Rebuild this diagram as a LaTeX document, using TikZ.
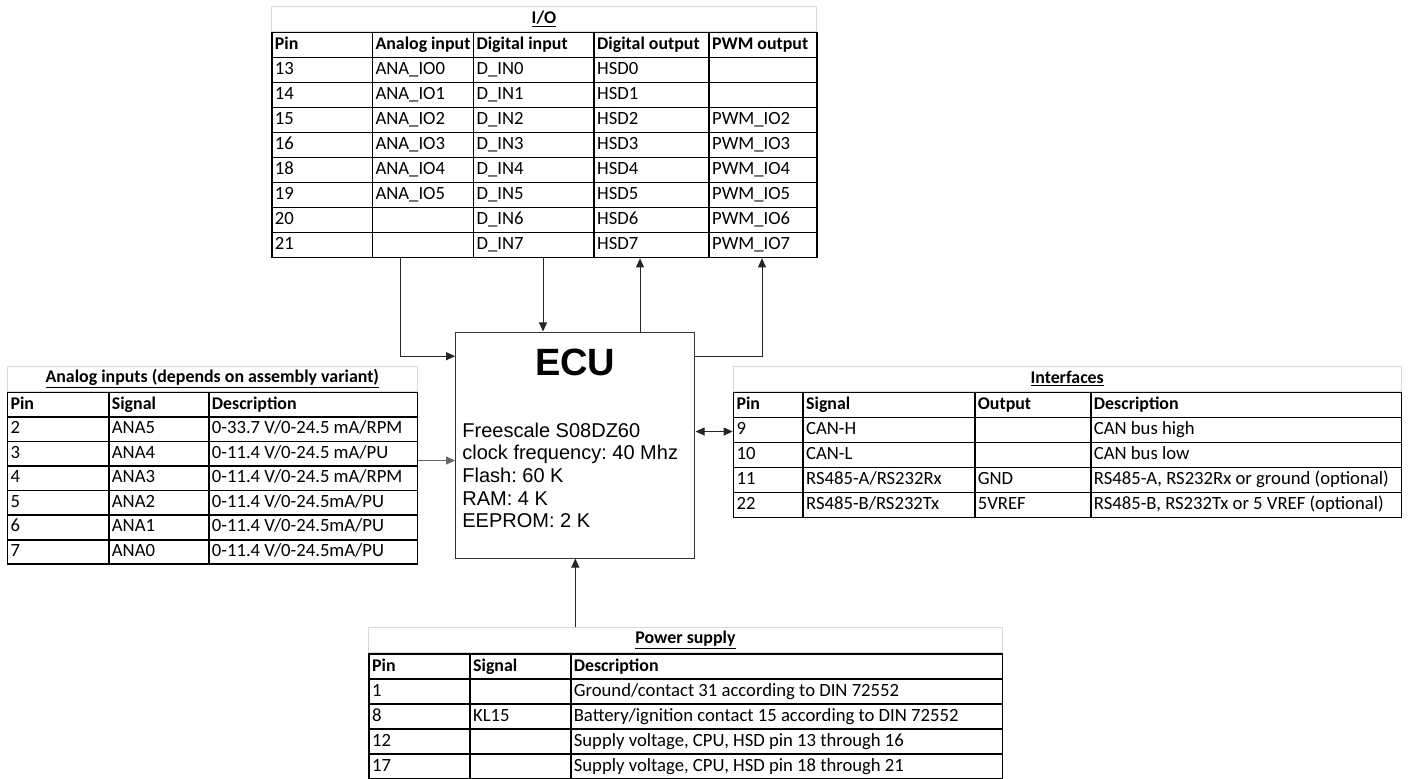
\documentclass[tikz,border=0pt]{standalone}
\usepackage{fontspec}
\setmainfont{Carlito}
\newfontfamily\ecufont{Liberation Sans}
\usetikzlibrary{
  arrows.meta,
  calc,
  matrix,
  positioning,
}
\frenchspacing
\newcommand{\tabfont}{\fontsize{14}{16}\selectfont}
\newcommand{\headfont}{\fontsize{13.4}{16}\selectfont\bfseries}
\tikzstyle{sheet} = [
  matrix of nodes,
  nodes in empty cells,
  inner sep=0pt,
  outer sep=0pt,
  column sep=-1.2pt,
  row sep=-1.2pt,
  nodes={draw, line width=1.2pt, rectangle, outer sep=0pt, inner xsep=2.3pt, inner ysep=0pt,
    minimum height=18.75pt, text height=9.8pt, text depth=3pt, align=flush left, font=\tabfont},
  row 1/.style={nodes={font=\headfont}},
]
\tikzstyle{caption} = [
  draw=black!15,
  line width=0.75pt,
  rectangle,
  anchor=south west,
  minimum height=18.9pt,
  inner sep=0pt,
  font=\headfont,
]
\tikzstyle{link} = [
  -{Triangle[length=6.8pt,width=6pt]},
  line width=0.75pt,
  black!85,
]

\begin{document}
\begin{tikzpicture}[x=0.75pt,y=-0.75pt]
    \useasboundingbox (0,0) rectangle (1412,778);

    % I/O
    \node[caption,minimum width=408.75pt] (iotitle) at (271,31.7) {\underline{I/O}};
    \matrix (io) [sheet,below=0pt of iotitle.south west,anchor=north west,
      column 1/.style={nodes={text width=70.9pt}},
      column 2/.style={nodes={text width=71.15pt}},
      column 3/.style={nodes={text width=85.85pt}},
      column 4/.style={nodes={text width=81.65pt}},
      column 5/.style={nodes={text width=76.2pt}}] {
      Pin & Analog input & Digital input & Digital output & PWM output \\
      13 & ANA\_IO0 & D\_IN0 & HSD0 & \\
      14 & ANA\_IO1 & D\_IN1 & HSD1 & \\
      15 & ANA\_IO2 & D\_IN2 & HSD2 & PWM\_IO2 \\
      16 & ANA\_IO3 & D\_IN3 & HSD3 & PWM\_IO3 \\
      18 & ANA\_IO4 & D\_IN4 & HSD4 & PWM\_IO4 \\
      19 & ANA\_IO5 & D\_IN5 & HSD5 & PWM\_IO5 \\
      20 & & D\_IN6 & HSD6 & PWM\_IO6 \\
      21 & & D\_IN7 & HSD7 & PWM\_IO7 \\
    };

    % Analog inputs
    \node[caption,minimum width=307.5pt] (anatitle) at (6.7,391.7) {\underline{Analog inputs (depends on assembly variant)}};
    \matrix (ana) [sheet,below=0pt of anatitle.south west,anchor=north west,
      nodes={minimum height=18.4pt},
      column 1/.style={nodes={text width=71.4pt}},
      column 2/.style={nodes={text width=70.4pt}},
      column 3/.style={nodes={text width=151.9pt}}] {
      Pin & Signal & Description \\
      2 & ANA5 & 0-33.7 V/0-24.5 mA/RPM \\
      3 & ANA4 & 0-11.4 V/0-24.5 mA/PU \\
      4 & ANA3 & 0-11.4 V/0-24.5 mA/RPM \\
      5 & ANA2 & 0-11.4 V/0-24.5mA/PU \\
      6 & ANA1 & 0-11.4 V/0-24.5mA/PU \\
      7 & ANA0 & 0-11.4 V/0-24.5mA/PU \\
    };

    % Interfaces
    \node[caption,minimum width=501pt] (intftitle) at (732.7,391.7) {\underline{Interfaces}};
    \matrix (intf) [sheet,below=0pt of intftitle.south west,anchor=north west,
      column 1/.style={nodes={text width=47.6pt}},
      column 2/.style={nodes={text width=124.2pt}},
      column 3/.style={nodes={text width=82.4pt}},
      column 4/.style={nodes={text width=228.4pt}}] {
      Pin & Signal & Output & Description \\
      9 & CAN-H & & CAN bus high \\
      10 & CAN-L & & CAN bus low \\
      11 & RS485-A/RS232Rx & GND & RS485-A, RS232Rx or ground (optional) \\
      22 & RS485-B/RS232Tx & 5VREF & RS485-B, RS232Tx or 5 VREF (optional) \\
    };

    % Power supply
    \node[caption,minimum width=475pt] (pwrtitle) at (368.3,653.3) {\underline{Power supply}};
    \matrix (pwr) [sheet,below=0pt of pwrtitle.south west,anchor=north west,
      column 1/.style={nodes={text width=71.15pt}},
      column 2/.style={nodes={text width=70.9pt}},
      column 3/.style={nodes={text width=319.2pt}}] {
      Pin & Signal & Description \\
      1 & & Ground/contact 31 according to DIN 72552 \\
      8 & KL15 & Battery/ignition contact 15 according to DIN 72552 \\
      12 & & Supply voltage, CPU, HSD pin 13 through 16 \\
      17 & & Supply voltage, CPU, HSD pin 18 through 21 \\
    };

    % ECU
    \node[draw=black!80,line width=0.75pt,minimum width=179.5pt,minimum height=169.5pt] (ecu) at (575.3,445) {};
    \node[font=\ecufont\bfseries\fontsize{28.5}{30}\selectfont,anchor=base,inner sep=0pt] (ecuname) at ($(ecu.north)+(0,43.7)$) {ECU};
    \node[font=\ecufont\fontsize{15}{17}\selectfont,anchor=north west,align=flush left,inner sep=0pt] (ecuspec) at ($(ecu.north west)+(7,91)$)
      {Freescale S08DZ60\\clock frequency: 40 Mhz\\Flash: 60 K\\RAM: 4 K\\EEPROM: 2 K};

    \coordinate (ioA) at ($(io.south west)+(129,0)$);
    \coordinate (ioB) at ($(io.south west)+(272,0)$);
    \coordinate (ioC) at ($(io.south west)+(369,0)$);
    \coordinate (ioD) at ($(io.south west)+(491,0)$);
    \coordinate (ecuL) at ($(ecu.north west)+(0,24.7)$);
    \coordinate (ecuR) at ($(ecu.north east)+(0,24.7)$);
    \coordinate (ecuA) at ($(ecu.north west)+(0,129)$);
    \coordinate (ecuI) at ($(ecu.north east)+(0,100)$);

    \draw[link] (ioA) |- (ecuL);
    \draw[link] (ioB) -- (ioB |- ecu.north);
    \draw[link] (ioC |- ecu.north) -- (ioC);
    \draw[link] (ecuR) -| (ioD);
    \draw[link,black!60] (ana.east |- ecuA) -- (ecuA);
    \draw[link,{Triangle[length=6.8pt,width=6pt]}-{Triangle[length=6.8pt,width=6pt]}] (ecuI) -- (intf.west |- ecuI);
    \draw[link] (pwrtitle.north -| ecu.south) -- (ecu.south);

\end{tikzpicture}
\end{document}
